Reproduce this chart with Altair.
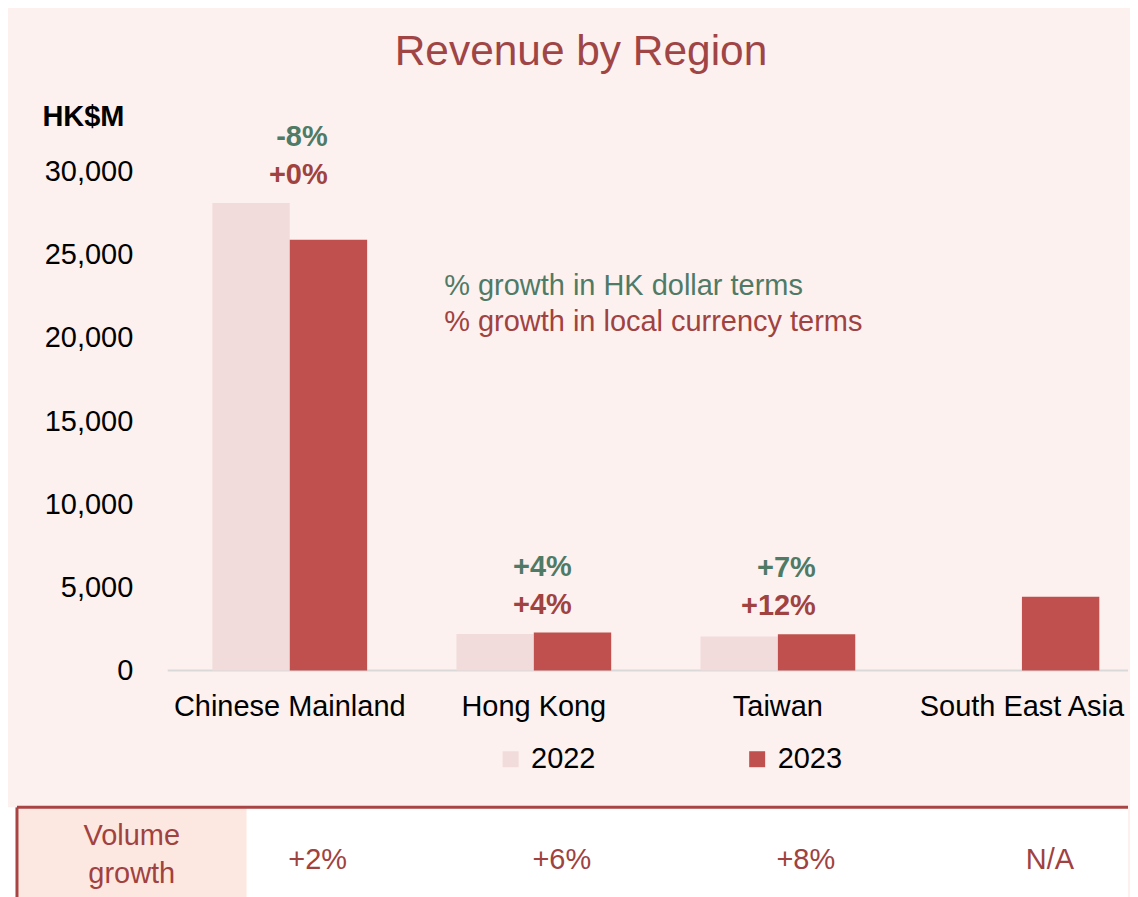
import altair as alt
import pandas as pd

# ---------------- data ----------------
regions = ["Chinese Mainland", "Hong Kong", "Taiwan", "South East Asia"]
years = ["2022", "2023"]
rev_2022 = [28100, 2200, 2050, None]
rev_2023 = [25900, 2290, 2190, 4440]
hkd_growth = ["-8%", "+4%", "+7%", ""]
local_growth = ["+0%", "+4%", "+12%", ""]
volume_growth = ["+2%", "+6%", "+8%", "N/A"]
y_ticks = [0, 5000, 10000, 15000, 20000, 25000, 30000]
note_hkd = "% growth in HK dollar terms"
note_local = "% growth in local currency terms"
table_header = ["Volume", "growth"]

# ---------------- styling ----------------
FONT = "Liberation Sans"
BG = "#FCF1EF"
C2022 = "#F2DCDB"
C2023 = "#C0504D"
GREEN = "#4F7A66"
DARKRED = "#A0423F"
TITLE_RED = "#A04545"
PEACH = "#FDE8E1"
BORDER = "#A84444"
FS = 29

rows = []
for r, a, b in zip(regions, rev_2022, rev_2023):
    if a is not None:
        rows.append({"region": r, "year": "2022", "value": a})
    if b is not None:
        rows.append({"region": r, "year": "2023", "value": b})
bar_df = pd.DataFrame(rows)

lab_rows = []
for r, a, b, g1, g2 in zip(regions, rev_2022, rev_2023, hkd_growth, local_growth):
    if g1:
        lab_rows.append({"region": r, "top": max(v for v in (a, b) if v is not None),
                         "hkd": g1, "local": g2})
lab_df = pd.DataFrame(lab_rows)

region_df = pd.DataFrame({"region": regions})
table_df = pd.DataFrame({"region": regions, "vol": volume_growth})

W = 962
H = 500
xscale = alt.Scale(domain=regions, range=[0, 978], paddingInner=0.3659, paddingOuter=0.183)

y_enc = alt.Y("value:Q", scale=alt.Scale(domain=[0, 30000], nice=False),
              axis=alt.Axis(values=y_ticks, format=",.0f", grid=False, domain=False, ticks=False,
                            labelFontSize=FS, labelColor="black", labelPadding=35, labelFont=FONT,
                            title="HK$M", titleAngle=0, titleFontWeight="bold", titleFontSize=FS,
                            titleX=-126, titleY=-55, titleAlign="left", titleBaseline="middle",
                            titleColor="black", titleFont=FONT))

one = pd.DataFrame({"k": [0]})

baseline = alt.Chart(one).mark_rule(color="#D9D9D9", strokeWidth=2).encode(
    x=alt.value(0), x2=alt.value(W), y=alt.datum(0))

bars = alt.Chart(bar_df).mark_bar().encode(
    x=alt.X("region:N", sort=regions, scale=xscale, axis=None),
    xOffset=alt.XOffset("year:N", scale=alt.Scale(domain=years, paddingInner=0, paddingOuter=0)),
    y=y_enc,
    color=alt.Color("year:N", scale=alt.Scale(domain=years, range=[C2022, C2023]),
                    legend=alt.Legend(title=None, orient="none", direction="horizontal",
                                      legendX=329, legendY=574, symbolType="square",
                                      symbolSize=256, symbolStrokeWidth=0, labelFontSize=FS,
                                      labelColor="black", labelFont=FONT, labelOffset=6,
                                      columnPadding=147, padding=0)),
)

x_labels = alt.Chart(region_df).mark_text(fontSize=FS, color="black", font=FONT,
                                          baseline="middle").encode(
    x=alt.X("region:N", sort=regions, scale=xscale, axis=None), y=alt.value(H + 36),
    text="region:N")

green_lab = alt.Chart(lab_df).mark_text(align="right", baseline="middle", dx=38, dy=-66,
                                        fontSize=FS, fontWeight="bold", color=GREEN, font=FONT).encode(
    x=alt.X("region:N", sort=regions, scale=xscale), y=alt.Y("top:Q"), text="hkd:N")
red_lab = alt.Chart(lab_df).mark_text(align="right", baseline="middle", dx=38, dy=-28,
                                      fontSize=FS, fontWeight="bold", color=DARKRED, font=FONT).encode(
    x=alt.X("region:N", sort=regions, scale=xscale), y=alt.Y("top:Q"), text="local:N")

n1 = alt.Chart(pd.DataFrame({"t": [note_hkd]})).mark_text(
    align="left", baseline="middle", fontSize=FS, color=GREEN, font=FONT).encode(
    x=alt.value(277), y=alt.value(115), text="t:N")
n2 = alt.Chart(pd.DataFrame({"t": [note_local]})).mark_text(
    align="left", baseline="middle", fontSize=FS, color=DARKRED, font=FONT).encode(
    x=alt.value(277), y=alt.value(151), text="t:N")

top = alt.layer(baseline, bars, x_labels, green_lab, red_lab, n1, n2).properties(
    width=W, height=H,
    title=alt.TitleParams("Revenue by Region", fontSize=42.5, color=TITLE_RED, font=FONT,
                          fontWeight="normal", anchor="middle", dx=-67, offset=29),
)

# ---------------- table row ----------------
TH = 91
t_bg = alt.Chart(one).mark_rect(color="white").encode(
    x=alt.value(-160), x2=alt.value(W), y=alt.value(0), y2=alt.value(TH))
t_head = alt.Chart(one).mark_rect(color=PEACH).encode(
    x=alt.value(-151), x2=alt.value(79), y=alt.value(0), y2=alt.value(TH))
t_top = alt.Chart(one).mark_rule(color=BORDER, strokeWidth=3).encode(
    x=alt.value(-151), x2=alt.value(W), y=alt.value(0))
t_left = alt.Chart(one).mark_rule(color=BORDER, strokeWidth=3).encode(
    x=alt.value(-151), y=alt.value(0), y2=alt.value(TH))
t_hdr_txt = alt.Chart(one).mark_text(text=table_header, lineHeight=38, fontSize=FS, color=DARKRED,
                                     font=FONT, align="center", baseline="middle").encode(
    x=alt.value(-36), y=alt.value(29))
t_vals = alt.Chart(table_df).mark_text(fontSize=FS, color=DARKRED, font=FONT, dx=28,
                                       baseline="middle").encode(
    x=alt.X("region:N", sort=regions, scale=xscale, axis=None), y=alt.value(53), text="vol:N")

bottom = alt.layer(t_bg, t_head, t_top, t_left, t_hdr_txt, t_vals).properties(width=W, height=TH)

chart = alt.vconcat(top, bottom, spacing=84).properties(
    background=BG, padding={"left": 0, "top": 22, "right": 0, "bottom": 0}
).configure(font=FONT).configure_view(strokeWidth=0, stroke="transparent")

chart.save("out.html", embed_options={"renderer": "svg", "actions": False})
